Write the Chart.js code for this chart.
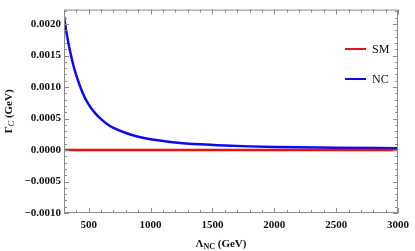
<!DOCTYPE html>
<html>
<head>
<meta charset="utf-8">
<script src="https://cdn.jsdelivr.net/npm/chart.js@4.4.0/dist/chart.umd.min.js"></script>
<style>
    html, body { margin: 0; padding: 0; background: #fff; }
    #wrap { width: 415px; height: 251px; }
</style>
</head>
<body>
<div id="wrap"><canvas id="gammaChart"></canvas></div>
<script>
// ============================================
// DATA
// ============================================

const lambdaNC = [300, 325, 350, 375, 400, 450, 500, 550, 600, 650, 700, 800, 900, 1000,
                  1200, 1400, 1600, 1800, 2000, 2500, 3000];
const gammaNC = [0.00212, 0.00181, 0.00156, 0.00135, 0.00118, 0.00091, 0.00072, 0.00059, 0.00049, 0.00041,
                 0.00035, 0.00027, 0.00021, 0.00017, 0.00012, 0.000090, 0.000071, 0.000058, 0.000049,
                 0.000036, 0.000028];
const lambdaSM = [300, 3000];
const gammaSM = [0, 0];

const xTicks = [500, 1000, 1500, 2000, 2500, 3000];
const yTicks = [-0.0010, -0.0005, 0.0000, 0.0005, 0.0010, 0.0015, 0.0020];

const seriesLabels = ['SM', 'NC'];
const seriesColors = ['#e81010', '#0a0af5'];

const AXIS_GRAY = '#8c8c8c';
const LABEL_FONT = { family: 'Liberation Serif', size: 11, weight: 'bold' };

// ============================================
// PLUGINS
// ============================================

// frame with inside ticks on all four sides
const framePlugin = {
    id: 'frame',
    afterDraw(chart) {
        const { ctx, chartArea: a, scales: { x, y } } = chart;
        ctx.save();
        ctx.strokeStyle = AXIS_GRAY;
        ctx.lineWidth = 1;
        ctx.strokeRect(a.left + 0.5, a.top + 0.5, a.right - a.left - 1, a.bottom - a.top - 1);

        const tick = (x1, y1, x2, y2) => {
            ctx.beginPath();
            ctx.moveTo(x1, y1);
            ctx.lineTo(x2, y2);
            ctx.stroke();
        };

        for (let v = 300; v <= 3000; v += 100) {
            const px = Math.round(x.getPixelForValue(v)) + 0.5;
            const len = v % 500 === 0 ? 5 : 3;
            tick(px, a.bottom, px, a.bottom - len);
            tick(px, a.top, px, a.top + len);
        }
        for (let i = -10; i <= 22; i++) {
            const v = i * 0.0001;
            const py = Math.round(y.getPixelForValue(v)) + 0.5;
            const len = i % 5 === 0 ? 5 : 3;
            tick(a.left, py, a.left + len, py);
            tick(a.right, py, a.right - len, py);
        }
        ctx.restore();
    }
};

// axis titles with subscripts + inline legend
const labelsPlugin = {
    id: 'labels',
    afterDraw(chart) {
        const { ctx, chartArea: a } = chart;
        ctx.save();
        ctx.fillStyle = '#111';
        ctx.textBaseline = 'alphabetic';

        // x title: Λ_NC (GeV)
        const big = 'bold 11px "Liberation Serif"';
        const small = 'bold 8px "Liberation Serif"';
        ctx.font = big;
        const wL = ctx.measureText('\u039b').width;
        const wG = ctx.measureText(' (GeV)').width;
        ctx.font = small;
        const wS = ctx.measureText('NC').width;
        let cx = (a.left + a.right) / 2 - 10 - (wL + wS + wG) / 2;
        const by = 247;
        ctx.font = big;
        ctx.fillText('\u039b', cx, by);
        cx += wL;
        ctx.font = small;
        ctx.fillText('NC', cx, by + 2);
        cx += wS;
        ctx.font = big;
        ctx.fillText(' (GeV)', cx, by);

        // y title: Γ_C (GeV), rotated
        ctx.save();
        ctx.translate(12, (a.top + a.bottom) / 2);
        ctx.rotate(-Math.PI / 2);
        ctx.font = big;
        const gW = ctx.measureText('\u0393').width;
        const gW2 = ctx.measureText(' (GeV)').width;
        ctx.font = 'italic 8px "Liberation Serif"';
        const cW = ctx.measureText('C').width;
        let ty = -(gW + cW + gW2) / 2;
        ctx.font = big;
        ctx.fillText('\u0393', ty, 0);
        ty += gW;
        ctx.font = 'italic 8px "Liberation Serif"';
        ctx.fillText('C', ty, 2);
        ty += cW;
        ctx.font = big;
        ctx.fillText(' (GeV)', ty, 0);
        ctx.restore();

        // legend
        const rows = [49, 79];
        ctx.font = '12px "Liberation Serif"';
        ctx.textBaseline = 'middle';
        chart.data.datasets.forEach((ds, i) => {
            ctx.strokeStyle = ds.borderColor;
            ctx.lineWidth = 2;
            ctx.beginPath();
            ctx.moveTo(345, rows[i]);
            ctx.lineTo(366, rows[i]);
            ctx.stroke();
            ctx.fillStyle = '#111';
            ctx.fillText(ds.label, 372, rows[i] + 1);
        });
        ctx.restore();
    }
};

// ============================================
// CHART
// ============================================

new Chart(document.getElementById('gammaChart'), {
    type: 'line',
    data: {
        datasets: [
            {
                label: seriesLabels[0],
                data: lambdaSM.map((v, i) => ({ x: v, y: gammaSM[i] })),
                borderColor: seriesColors[0],
                borderWidth: 2.5,
                pointRadius: 0
            },
            {
                label: seriesLabels[1],
                data: lambdaNC.map((v, i) => ({ x: v, y: gammaNC[i] })),
                borderColor: seriesColors[1],
                borderWidth: 2.5,
                pointRadius: 0,
                cubicInterpolationMode: 'monotone'
            }
        ]
    },
    options: {
        responsive: true,
        maintainAspectRatio: false,
        animation: false,
        layout: { padding: { top: 1, right: 14, left: 0, bottom: 0 } },
        plugins: {
            legend: { display: false },
            tooltip: { enabled: false }
        },
        scales: {
            x: {
                type: 'linear',
                min: 300,
                max: 3000,
                afterBuildTicks: s => { s.ticks = xTicks.map(v => ({ value: v })); },
                afterFit: s => { s.height = 38; },
                grid: { display: false, drawTicks: false },
                border: { display: false },
                ticks: {
                    padding: 6,
                    color: '#111',
                    font: LABEL_FONT,
                    maxRotation: 0,
                    callback: v => String(v)
                }
            },
            y: {
                min: -0.0010,
                max: 0.00223,
                afterBuildTicks: s => { s.ticks = yTicks.map(v => ({ value: v })); },
                afterFit: s => { s.width = 64; },
                grid: { display: false, drawTicks: false },
                border: { display: false },
                ticks: {
                    padding: 3,
                    color: '#111',
                    font: LABEL_FONT,
                    callback: v => (v < 0 ? '\u2212' : '') + Math.abs(v).toFixed(4)
                }
            }
        }
    },
    plugins: [framePlugin, labelsPlugin]
});
</script>
</body>
</html>
